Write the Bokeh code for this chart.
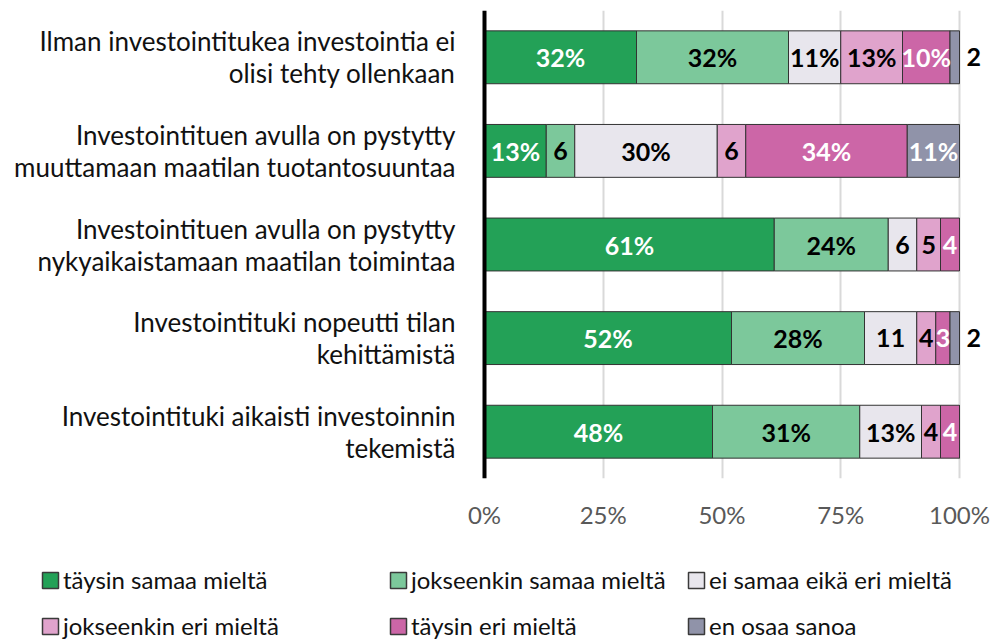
from bokeh.plotting import figure
from bokeh.layouts import column
from bokeh.models import (ColumnDataSource, FactorRange, Range1d, FixedTicker,
                          Legend, LegendItem, Span)
from bokeh.core.properties import value
from bokeh.embed import file_html
from bokeh.resources import INLINE

# ---------------- data ----------------
categories = [
    "Ilman investointitukea investointia ei\nolisi tehty ollenkaan",
    "Investointituen avulla on pystytty\nmuuttamaan maatilan tuotantosuuntaa",
    "Investointituen avulla on pystytty\nnykyaikaistamaan maatilan toimintaa",
    "Investointituki nopeutti tilan\nkehittämistä",
    "Investointituki aikaisti investoinnin\ntekemistä",
]
series_names = ["täysin samaa mieltä", "jokseenkin samaa mieltä", "ei samaa eikä eri mieltä",
                "jokseenkin eri mieltä", "täysin eri mieltä", "en osaa sanoa"]
taysin_samaa = [32, 13, 61, 52, 48]
jokseenkin_samaa = [32, 6, 24, 28, 31]
ei_samaa_eika_eri = [11, 30, 6, 11, 13]
jokseenkin_eri = [13, 6, 5, 4, 4]
taysin_eri = [10, 34, 4, 3, 4]
en_osaa = [2, 11, 0, 2, 0]

labels_taysin_samaa = ["32%", "13%", "61%", "52%", "48%"]
labels_jokseenkin_samaa = ["32%", "6", "24%", "28%", "31%"]
labels_ei_samaa_eika_eri = ["11%", "30%", "6", "11", "13%"]
labels_jokseenkin_eri = ["13%", "6", "5", "4", "4"]
labels_taysin_eri = ["10%", "34%", "4", "3", "4"]
labels_en_osaa = ["2", "11%", "", "2", ""]

tick_values = [0, 25, 50, 75, 100]
tick_labels = ["0%", "25%", "50%", "75%", "100%"]

colors = ["#23a157", "#7cc89b", "#e8e6ed", "#e0a3cc", "#cc66a7", "#9093a9"]
label_colors = ["white", "black", "black", "black", "white", "white"]

all_values = [taysin_samaa, jokseenkin_samaa, ei_samaa_eika_eri, jokseenkin_eri, taysin_eri, en_osaa]
all_labels = [labels_taysin_samaa, labels_jokseenkin_samaa, labels_ei_samaa_eika_eri,
              labels_jokseenkin_eri, labels_taysin_eri, labels_en_osaa]

FONT = "Lato"
W = 990
ZERO_PX = 484          # screen position of 0 %
PX_PER_PCT = 4.75      # horizontal scale

# ---------------- main figure ----------------
p = figure(width=W, height=540,
           y_range=FactorRange(factors=list(reversed(categories))),
           x_range=Range1d(-ZERO_PX / PX_PER_PCT, (W - ZERO_PX) / PX_PER_PCT),
           output_backend="svg", toolbar_location=None, y_axis_location=None,
           min_border_left=0, min_border_right=0, min_border_top=10, min_border_bottom=62)
p.outline_line_color = None
p.y_range.range_padding = 0

keys = [f"s{i}" for i in range(len(series_names))]
data = {"cat": categories}
for k, vals in zip(keys, all_values):
    data[k] = vals
src = ColumnDataSource(data)

p.hbar_stack(keys, y="cat", height=0.565, color=colors, source=src,
             line_color="#333333", line_width=1)

# category labels (left of the value axis)
csrc = ColumnDataSource(dict(y=categories, x=[0] * len(categories)))
p.text(x="x", y="y", text="y", source=csrc, x_offset=-29, text_align="right",
       text_baseline="middle", text_font=value(FONT), text_font_size="26px",
       text_color="#111111", text_line_height=1.0)

# segment labels
lx, ly, lt, lc, lal, loff = [], [], [], [], [], []
cum = [0] * len(categories)
for si, (vals, labs) in enumerate(zip(all_values, all_labels)):
    for ci, (v, t) in enumerate(zip(vals, labs)):
        start = cum[ci]
        cum[ci] += v
        if not t:
            continue
        if v < 3:
            lx.append(cum[ci]); lal.append("left"); loff.append(7); lc.append("black")
        else:
            lx.append(start + v / 2); lal.append("center"); loff.append(0); lc.append(label_colors[si])
        ly.append(categories[ci]); lt.append(t)
lsrc = ColumnDataSource(dict(x=lx, y=ly, t=lt, c=lc, a=lal, o=loff))
p.text(x="x", y="y", text="t", text_color="c", text_align="a", x_offset="o",
       text_baseline="middle", text_font=value(FONT), text_font_style="bold",
       text_font_size="25px", source=lsrc)

# value axis line at 0 %
p.add_layout(Span(location=0, dimension="height", line_color="black", line_width=4))

# x axis
p.xaxis.ticker = FixedTicker(ticks=tick_values)
p.xaxis.major_label_overrides = {v: l for v, l in zip(tick_values, tick_labels)}
p.xaxis.axis_line_color = None
p.xaxis.major_tick_line_color = None
p.xaxis.minor_tick_line_color = None
p.xaxis.major_tick_in = 0
p.xaxis.major_tick_out = 0
p.xaxis.major_label_standoff = 21
p.xaxis.major_label_text_font = FONT
p.xaxis.major_label_text_font_size = "24px"
p.xaxis.major_label_text_color = "#595959"

p.xgrid.grid_line_color = "#d9d9d9"
p.xgrid.grid_line_width = 2
p.ygrid.grid_line_color = None

# ---------------- legend strip ----------------
lg_fig = figure(width=W, height=99, x_range=Range1d(0, 1), y_range=Range1d(0, 1),
                output_backend="svg", toolbar_location=None,
                x_axis_location=None, y_axis_location=None,
                min_border_left=0, min_border_right=0, min_border_top=0, min_border_bottom=0)
lg_fig.outline_line_color = None
lg_fig.xgrid.grid_line_color = None
lg_fig.ygrid.grid_line_color = None

swatches = []
for col in colors:
    swatches.append(lg_fig.hbar(y=[0.5], left=[0], right=[1], height=1, fill_color=col,
                                line_color="#3a3a3a", line_width=1.5, visible=False))

col_x = [40, 388, 686]
for c in range(3):
    items = [LegendItem(label=series_names[c + 3 * r], renderers=[swatches[c + 3 * r]]) for r in range(2)]
    lg = Legend(items=items, location=(col_x[c], -1), orientation="vertical",
                glyph_width=20, glyph_height=20, label_standoff=3, spacing=17,
                padding=0, margin=0, border_line_color=None, background_fill_alpha=0,
                inactive_fill_alpha=0,
                label_text_font=FONT, label_text_font_size="24px", label_text_color="#111111",
                label_height=26)
    lg_fig.add_layout(lg, "center")

layout = column(p, lg_fig, spacing=0)
open("out.html", "w").write(file_html(layout, INLINE))
